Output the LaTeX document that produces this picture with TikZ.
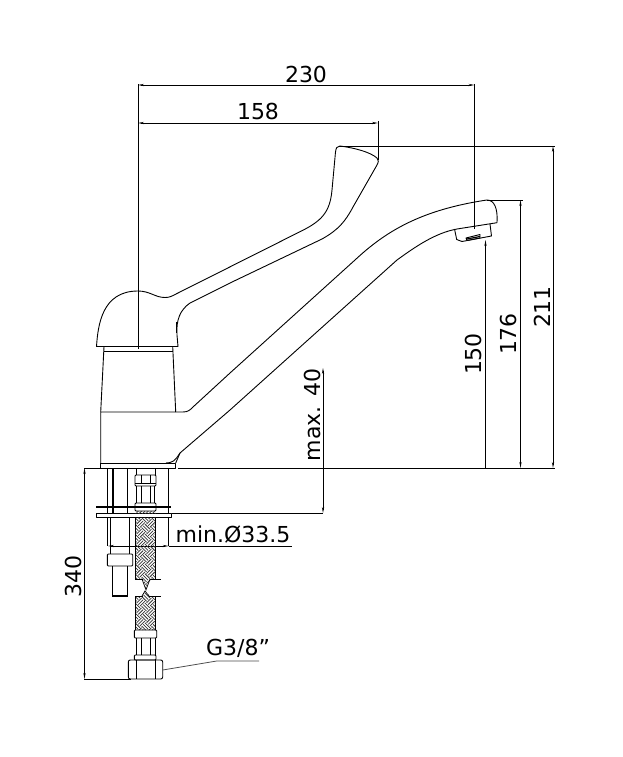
\documentclass[tikz,border=0pt]{standalone}
\usepackage{fontspec}
\setmainfont{DejaVu Sans}
\usetikzlibrary{arrows.meta}
\tikzset{
  part/.style={line width=0.9pt,black,line join=round},
  thin part/.style={line width=0.7pt,black},
  thick part/.style={line width=1.6pt,black},
  dim/.style={line width=0.8pt,black},
  dimtip/.style={dim,{Stealth[length=6pt,width=2.2pt]}-{Stealth[length=6pt,width=2.2pt]}},
  lab/.style={font=\fontsize{22}{22}\selectfont,inner sep=0pt,black},
  braid/.style={line width=0.75pt,black!80},
}
% basket weave turned by 45 degrees around the point (145.7,#2)
\newcommand{\braidcells}[2]{%
  \begin{scope}[shift={(145.7,#2)},rotate=45]
  \foreach \i in {-#1,...,#1}{
    \foreach \j in {-#1,...,#1}{
      \pgfmathtruncatemacro{\pty}{mod(\i+\j+100,2)}
      \pgfmathsetmacro{\cx}{\i*7}
      \pgfmathsetmacro{\cy}{\j*7}
      \foreach \k in {1.17,3.5,5.83}{
        \ifnum\pty=0
          \draw[braid] (\cx,\cy+\k) -- (\cx+7,\cy+\k);
        \else
          \draw[braid] (\cx+\k,\cy) -- (\cx+\k,\cy+7);
        \fi
      }
    }
  }
  \end{scope}}
\begin{document}
\begin{tikzpicture}[x=1pt,y=-1pt]
\useasboundingbox (0,0) rectangle (623,757);
\fill[white] (0,0) rectangle (623,757);
% handle
\draw[part] (96.5,346.5) .. controls (98,325) and (102,291) .. (138,291)
  .. controls (150,291) and (155,297.5) .. (165,297.5)
  .. controls (170,297.5) and (172,296) .. (176,294)
  -- (300,231.7) .. controls (322,221) and (330,212) .. (332,190)
  -- (335.5,152) .. controls (336,148) and (337,146) .. (340,146)
  .. controls (355,148) and (370,152) .. (377,158)
  .. controls (379,160) and (378.5,162) .. (377,165)
  -- (353,207) .. controls (345,222) and (338,230) .. (322,239)
  -- (230,283) -- (190,303) .. controls (180,310) and (176,320) .. (177,335)
  -- (178,346.5) -- cycle;
\draw[line width=1.4pt] (176.5,322) -- (176.5,333);
% collar and neck
\draw[part] (104,351) -- (172.7,351);
\draw[part] (104,346.5) -- (100.7,412);
\draw[part] (172.7,346.5) -- (175.7,412);
% body and spout
\draw[part] (100.7,463) -- (100.7,412) -- (183,412)
  .. controls (188,412) and (190,410) .. (193,407)
  -- (230,373) -- (355,260)
  .. controls (385,232) and (420,210) .. (487,200)
  .. controls (494,200) and (498,208) .. (497,222.7)
  -- (457,229) .. controls (435,233) and (415,247) .. (397,260)
  -- (230,410) -- (180,453) -- (175.7,463);
\draw[part] (166,463) .. controls (172,463) and (175,461) .. (180,453);
% base
\draw[part] (100.7,463) rectangle (175.7,468);
\draw[line width=1.3pt] (103,468.5) -- (172,468.5);
% aerator
\draw[part] (454.5,229) -- (456.7,239.5) -- (462,241.5) -- (491.5,236) -- (490,224);
\draw[part] (466,238) -- (480,234.5) -- (480,238) -- (467,240.5) -- cycle;
\draw[line width=1.2pt] (467,239) -- (480,236.5);
% dimensions top
\draw[dim] (138,349) -- (138,84);
\draw[dim] (474.5,84) -- (474.5,229);
\draw[dimtip] (138,85) -- (474.5,85);
\draw[dim] (378,121) -- (378,160);
\draw[dimtip] (138,123) -- (378,123);
\draw[dim] (339,146) -- (555,146);
\draw[dim] (487,200) -- (523,200);
\draw[dim] (178,468) -- (555,468);
\draw[dimtip] (553,146) -- (553,468);
\draw[dimtip] (520.5,200) -- (520.5,468);
\draw[dim,-{Stealth[length=6pt,width=2.2pt]}] (485.5,468) -- (485.5,240);
\draw[dimtip] (323,368) -- (323,513);
\draw[dim] (172,513) -- (323,513);
% left dims
\draw[dim] (84,468) -- (105,468);
\draw[dim] (84,679) -- (131,679);
\draw[dimtip] (84.5,468) -- (84.5,679);
% mount
\draw[dim] (107.5,469) -- (107.5,546);
\draw[dim] (168.7,469) -- (168.7,546);
\draw[dimtip] (108,546) -- (168.7,546);
\draw[dim] (168.7,546) -- (292,546);
% studs
\draw[thick part] (112.7,469) -- (112.7,513);
\draw[thick part] (127.3,469) -- (127.3,513);
\draw[thin part] (110.7,517.7) -- (110.7,554);
\draw[thin part] (129.3,517.7) -- (129.3,554);
\draw[line width=2pt] (96,507) -- (170.7,507);
\draw[part,fill=white] (96.7,513.3) rectangle (171.7,517.7);
\draw[part,rounded corners=1pt,fill=white] (107.3,554) rectangle (132.7,566);
\draw[line width=1.2pt] (112.7,566) -- (112.7,596) -- (127.3,596) -- (127.3,566);
% upper connector
\draw[thin part] (136,469) -- (136,475) (155,469) -- (155,475);
\draw[part,rounded corners=1pt] (135,475) rectangle (156,486);
\draw[thin part] (135,483) -- (156,483) (141,475) -- (141,483) (150,475) -- (150,483);
\draw[part] (136.5,486) -- (136.5,503) (154.5,486) -- (154.5,503);
\draw[part] (141,486) -- (141,503) (150,486) -- (150,503);
\draw[part,rounded corners=1pt] (135,503) rectangle (156,511);
% braid upper
\begin{scope}
\clip (135.7,511) rectangle (155.7,513.3);
\braidcells{3}{512}
\end{scope}
\begin{scope}
\clip (135.7,517.7) -- (155.7,517.7) -- (155.7,579) -- (152,579) -- (149,582) -- (147,587) -- (146,590) -- (144,584) -- (142,579) -- (135.7,579) -- cycle;
\braidcells{9}{553}
\end{scope}
\draw[thin part] (135.7,518) -- (135.7,579) (155.7,518) -- (155.7,579);
\draw[thin part] (135,579.5) -- (143,579.5) (150,579.5) -- (161,579.5);
\draw[thin part] (142,579) -- (146,590) -- (150,579);
% braid lower
\begin{scope}
\clip (135.7,630) -- (155.7,630) -- (155.7,596) -- (150,596) -- (147,593) -- (145,591) -- (143,596) -- (135.7,596) -- cycle;
\braidcells{6}{612}
\end{scope}
\draw[thin part] (135.7,596) -- (135.7,630) (155.7,596) -- (155.7,630);
\draw[thin part] (135,596) -- (143,596) (149,596) -- (161,596);
\draw[thin part] (142,596) -- (145,591) -- (149,596);
% lower connector
\draw[part,rounded corners=1pt] (134.3,630) rectangle (156.7,638);
\draw[part] (136,638) -- (136,655) (155,638) -- (155,655);
\draw[thin part] (141,638) -- (141,655) (150,638) -- (150,655);
\draw[part,rounded corners=1pt] (134.3,655) rectangle (156,660);
\draw[part,rounded corners=2pt] (128.3,660) rectangle (162.7,679);
\draw[thin part] (136,660) -- (136,679) (155,660) -- (155,679);
% leader
\draw[dim,black!70] (162.7,670) -- (216.7,661) -- (259,661);
% labels
\node[lab] (l230) at (306,74) {230};
\node[lab] (l158) at (258,111) {158};
\node[lab,rotate=90] (l211) at (542,307) {211};
\node[lab,rotate=90] (l176) at (508,334) {176};
\node[lab,rotate=90] (l150) at (473,354) {150};
\node[lab,rotate=90] (lmax) at (312,415) {max. 40};
\node[lab] (lmin) at (233,534) {min.Ø33.5};
\node[lab,rotate=90] (l340) at (73,576) {340};
\node[lab] (lg) at (238,648) {G3/8\symbol{34}};
\end{tikzpicture}
\end{document}
